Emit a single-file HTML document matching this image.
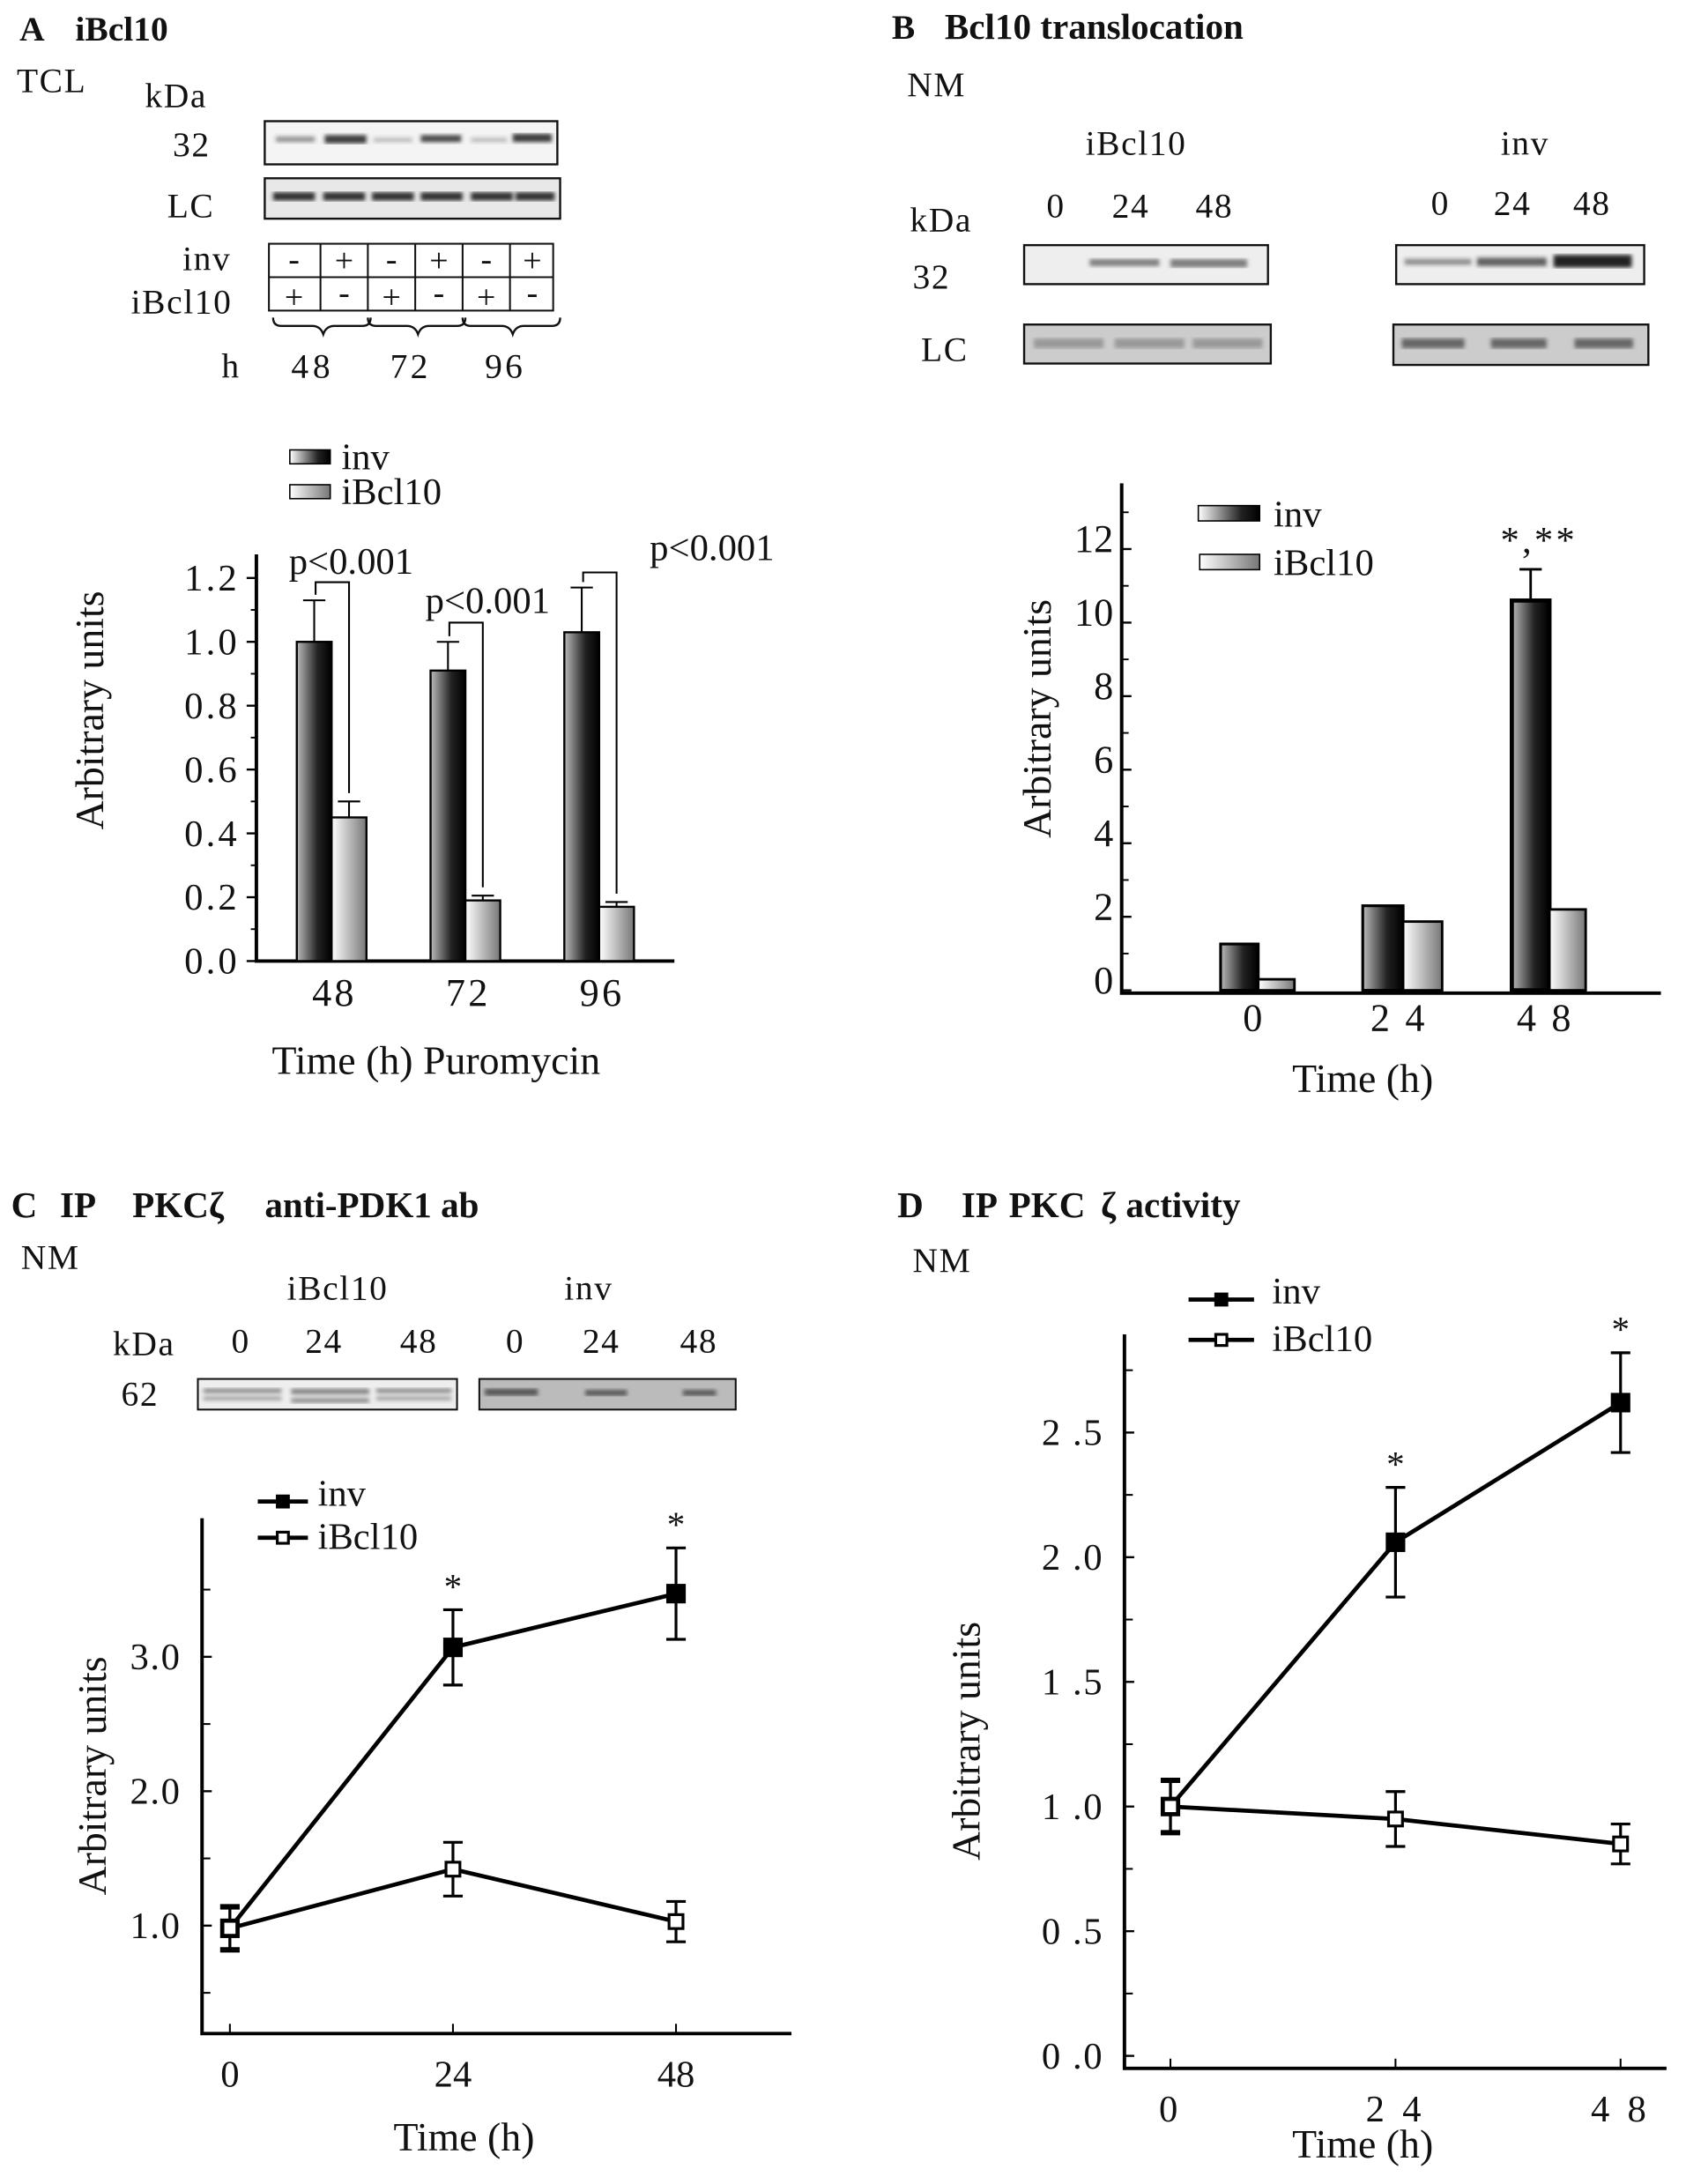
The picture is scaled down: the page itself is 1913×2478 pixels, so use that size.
<!DOCTYPE html>
<html><head><meta charset="utf-8">
<style>
html,body{margin:0;padding:0;background:#fff;}
svg{display:block;}
text{font-family:"Liberation Serif",serif;fill:#111;}
.b{font-weight:bold;}
</style></head>
<body>
<svg id="fig" xmlns="http://www.w3.org/2000/svg" width="1913" height="2478" viewBox="0 0 1210 1568" preserveAspectRatio="none" font-family="Liberation Serif, serif">
<defs>
<linearGradient id="gInv" x1="0" x2="1" y1="0" y2="0"><stop offset="0" stop-color="#bbb"/><stop offset="0.6" stop-color="#222"/><stop offset="1" stop-color="#000"/></linearGradient>
<linearGradient id="gIb" x1="0" x2="1" y1="0" y2="0"><stop offset="0" stop-color="#fff"/><stop offset="1" stop-color="#777"/></linearGradient>
<linearGradient id="gInvL" x1="0" x2="1"><stop offset="0" stop-color="#fff"/><stop offset="0.7" stop-color="#222"/><stop offset="1" stop-color="#000"/></linearGradient>
<filter id="blur"><feGaussianBlur stdDeviation="1.5"/></filter>
</defs>

<!-- Panel A header -->
<g font-size="25" letter-spacing="1">
<g class="b" font-size="25" letter-spacing="0">
<text x="14" y="29" class="b">A</text><text x="54" y="29" class="b">iBcl10</text></g>
<text x="12" y="66">TCL</text>
<text x="104" y="77">kDa</text>
<text x="124" y="112">32</text>
<text x="120" y="156">LC</text>
<rect x="190" y="87" width="210" height="31" fill="#f4f4f4" stroke="#111" stroke-width="1.5"/>
<g filter="url(#blur)" fill="#333">
<rect x="198" y="98" width="28" height="4" opacity="0.5"/><rect x="233" y="97" width="30" height="6" opacity="0.95"/>
<rect x="268" y="99" width="28" height="3" opacity="0.3"/><rect x="302" y="97" width="29" height="5" opacity="0.9"/>
<rect x="338" y="99" width="26" height="3" opacity="0.3"/><rect x="368" y="96" width="28" height="6" opacity="0.95"/>
</g>
<rect x="190" y="128" width="212" height="29" fill="#e8e8e8" stroke="#111" stroke-width="1.5"/>
<g filter="url(#blur)" fill="#333">
<rect x="196" y="138" width="30" height="6"/><rect x="232" y="138" width="30" height="6"/><rect x="267" y="138" width="30" height="6"/><rect x="302" y="138" width="30" height="6"/><rect x="338" y="138" width="30" height="6"/><rect x="370" y="138" width="28" height="6"/>
</g>
<text x="131" y="194">inv</text>
<text x="94" y="225">iBcl10</text>
<g stroke="#111" stroke-width="1.3" fill="none">
<rect x="193" y="175" width="204" height="48"/>
<line x1="193" y1="199" x2="397" y2="199"/>
<line x1="230" y1="175" x2="230" y2="223"/><line x1="264" y1="175" x2="264" y2="223"/><line x1="298" y1="175" x2="298" y2="223"/><line x1="332" y1="175" x2="332" y2="223"/><line x1="366" y1="175" x2="366" y2="223"/>
</g>
<g font-size="24" text-anchor="middle" letter-spacing="0">
<text x="211" y="194">-</text><text x="247" y="195">+</text><text x="281" y="194">-</text><text x="315" y="195">+</text><text x="349" y="194">-</text><text x="382" y="195">+</text>
<text x="211" y="221">+</text><text x="247" y="218">-</text><text x="281" y="221">+</text><text x="315" y="218">-</text><text x="349" y="221">+</text><text x="382" y="218">-</text>
</g>
<g stroke="#111" stroke-width="1.5" fill="none">
<path d="M196,228 q0,6 6,6 h22 q6,0 8,6 q2,-6 8,-6 h20 q6,0 6,-6"/>
<path d="M264,228 q0,6 6,6 h22 q6,0 8,6 q2,-6 8,-6 h20 q6,0 6,-6"/>
<path d="M332,228 q0,6 6,6 h22 q6,0 8,6 q2,-6 8,-6 h20 q6,0 6,-6"/>
</g>
<text x="159" y="271">h</text>
<text x="209" y="271" letter-spacing="3">48</text>
<text x="280" y="271" letter-spacing="2">72</text>
<text x="348" y="271" letter-spacing="2">96</text>
</g>

<g id="chartA"></g>

<!-- Panel B header -->
<g font-size="25" letter-spacing="1">
<g letter-spacing="0">
<text x="640" y="28" class="b">B</text><text x="678" y="28" class="b" font-size="26">Bcl10 translocation</text></g>
<text x="651" y="69">NM</text>
<text x="779" y="111">iBcl10</text>
<text x="1077" y="111">inv</text>
<text x="653" y="166">kDa</text>
<text x="751" y="156">0</text><text x="798" y="156">24</text><text x="858" y="156">48</text>
<text x="1027" y="154">0</text><text x="1072" y="154">24</text><text x="1129" y="154">48</text>
<text x="655" y="207">32</text>
<text x="661" y="259">LC</text>
<rect x="735" y="176" width="175" height="28" fill="#eee" stroke="#111" stroke-width="1.5"/>
<g filter="url(#blur)" fill="#333"><rect x="782" y="186" width="50" height="5" opacity="0.6"/><rect x="840" y="186" width="55" height="6" opacity="0.6"/></g>
<rect x="1002" y="176" width="178" height="28" fill="#eee" stroke="#111" stroke-width="1.5"/>
<g filter="url(#blur)" fill="#222"><rect x="1008" y="186" width="48" height="4" opacity="0.5"/><rect x="1060" y="185" width="50" height="6" opacity="0.7"/><rect x="1115" y="183" width="56" height="9" opacity="1"/></g>
<rect x="735" y="233" width="177" height="28" fill="#ccc" stroke="#111" stroke-width="1.5"/>
<g filter="url(#blur)" fill="#999"><rect x="742" y="243" width="50" height="7"/><rect x="800" y="243" width="50" height="7"/><rect x="856" y="243" width="50" height="7"/></g>
<rect x="1000" y="233" width="183" height="29" fill="#ccc" stroke="#111" stroke-width="1.5"/>
<g filter="url(#blur)" fill="#666"><rect x="1006" y="243" width="45" height="7"/><rect x="1070" y="243" width="40" height="7"/><rect x="1130" y="243" width="42" height="7"/></g>
</g>

<g id="chartB"></g>

<!-- Panel C header -->
<g font-size="25" letter-spacing="1">
<g letter-spacing="0" font-size="26">
<text x="8" y="874" class="b">C</text><text x="43" y="874" class="b">IP</text><text x="95" y="874" class="b">PKCζ</text><text x="190" y="874" class="b">anti-PDK1 ab</text></g>
<text x="15" y="911">NM</text>
<text x="206" y="933">iBcl10</text>
<text x="405" y="933">inv</text>
<text x="81" y="973">kDa</text>
<text x="166" y="971">0</text><text x="219" y="971">24</text><text x="287" y="971">48</text>
<text x="363" y="971">0</text><text x="418" y="971">24</text><text x="488" y="971">48</text>
<text x="87" y="1009">62</text>
<rect x="142" y="990" width="186" height="22" fill="#eee" stroke="#111" stroke-width="1.3"/>
<g filter="url(#blur)" fill="#555" opacity="0.7"><rect x="146" y="997" width="56" height="3"/><rect x="209" y="997" width="56" height="4"/><rect x="270" y="997" width="54" height="3"/><rect x="146" y="1003" width="56" height="2"/><rect x="209" y="1004" width="56" height="3"/><rect x="270" y="1003" width="54" height="2"/></g>
<rect x="344" y="990" width="184" height="22" fill="#bbb" stroke="#111" stroke-width="1.3"/>
<g filter="url(#blur)" fill="#555"><rect x="348" y="997" width="38" height="5"/><rect x="420" y="998" width="30" height="4"/><rect x="490" y="998" width="24" height="4"/></g>
</g>

<g id="chartC"></g>

<!-- Panel D header -->
<g font-size="26">
<g>
<text x="644" y="874" class="b">D</text><text x="690" y="874" class="b">IP</text><text x="724" y="874" class="b">PKC</text><text x="790" y="874" class="b">ζ</text><text x="808" y="874" class="b">activity</text></g>
<text x="655" y="913" font-size="25" letter-spacing="1">NM</text>
</g>
<g id="chartD"></g>
</svg>

<script>
// ---- Chart A data ----
const catsA = ['48', '72', '96'];
const invA = [1.00, 0.91, 1.03];
const invErrA = [0.13, 0.09, 0.14];
const ibA = [0.45, 0.19, 0.17];
const ibErrA = [0.05, 0.015, 0.015];
const ticksA = ['0.0', '0.2', '0.4', '0.6', '0.8', '1.0', '1.2'];
const tickValsA = [0, 0.2, 0.4, 0.6, 0.8, 1.0, 1.2];

// ---- Chart B data ----
const catsB = ['0', '2 4', '4 8'];
const invB = [1.26, 2.3, 10.6];
const invErrB = [0, 0, 0.85];
const ibB = [0.3, 1.87, 2.2];
const ticksB = ['0', '2', '4', '6', '8', '10', '12'];
const tickValsB = [0, 2, 4, 6, 8, 10, 12];

// ---- Chart C data ----
const timesC = [0, 24, 48];
const timeLabelsC = ['0', '24', '48'];
const invC = [0.98, 3.07, 3.47];
const invErrC = [0.17, 0.28, 0.34];
const ibC = [0.98, 1.42, 1.03];
const ibErrC = [0.15, 0.2, 0.15];
const ticksC = ['1.0', '2.0', '3.0'];
const tickValsC = [1, 2, 3];

// ---- Chart D data ----
const timesD = [0, 24, 48];
const timeLabelsD = ['0', '2 4', '4 8'];
const invD = [1.0, 2.06, 2.62];
const invErrD = [0.11, 0.22, 0.2];
const ibD = [1.0, 0.95, 0.85];
const ibErrD = [0.1, 0.11, 0.08];
const ticksD = ['0 .0', '0 .5', '1 .0', '1 .5', '2 .0', '2 .5'];
const tickValsD = [0, 0.5, 1.0, 1.5, 2.0, 2.5];

const NS = 'http://www.w3.org/2000/svg';
function mk(tag, attrs, parent, txt) {
  const e = document.createElementNS(NS, tag);
  for (const k in attrs) e.setAttribute(k, attrs[k]);
  if (txt !== undefined) e.textContent = txt;
  parent.appendChild(e);
  return e;
}

// ================= Chart A =================
(function () {
  const g = document.getElementById('chartA');
  const y = v => 690 - v * 229.2;
  const gx = i => 238 + i * 96;
  const bw = 25;
  const ax = mk('path', {d: 'M184,398 V690 H484', stroke: '#000', 'stroke-width': 2.5, fill: 'none'}, g);
  
  
  tickValsA.forEach((v, i) => {
    mk('line', {x1: 177, x2: 184, y1: y(v), y2: y(v), stroke: '#000', 'stroke-width': 1.5}, g);
    if (i < tickValsA.length - 1) mk('line', {x1: 180, x2: 184, y1: y(v + 0.1), y2: y(v + 0.1), stroke: '#000', 'stroke-width': 1.2}, g);
    const t = mk('text', {x: 172, y: y(v) + 9, 'font-size': 27, 'text-anchor': 'end', 'letter-spacing': 2}, g, ticksA[i]);
    
    
  });
  catsA.forEach((c, i) => {
    const b1 = mk('rect', {x: gx(i) - bw, y: y(invA[i]), width: bw, height: 690 - y(invA[i]), fill: 'url(#gInv)', stroke: '#000', 'stroke-width': 1.5}, g);
    
    
    const b2 = mk('rect', {x: gx(i), y: y(ibA[i]), width: bw, height: 690 - y(ibA[i]), fill: 'url(#gIb)', stroke: '#000', 'stroke-width': 1.5}, g);
    
    
    const cx1 = gx(i) - bw / 2, cx2 = gx(i) + bw / 2;
    mk('path', {d: `M${cx1},${y(invA[i])} V${y(invA[i] + invErrA[i])} M${cx1 - 8},${y(invA[i] + invErrA[i])} H${cx1 + 8}`, stroke: '#000', 'stroke-width': 1.3, fill: 'none'}, g);
    mk('path', {d: `M${cx2},${y(ibA[i])} V${y(ibA[i] + ibErrA[i])} M${cx2 - 8},${y(ibA[i] + ibErrA[i])} H${cx2 + 8}`, stroke: '#000', 'stroke-width': 1.3, fill: 'none'}, g);
    const xl = mk('text', {x: gx(i) + 2, y: 722, 'font-size': 28, 'text-anchor': 'middle', 'letter-spacing': 2}, g, c);
    
    
  });
  // p-value brackets
  const brTop = [418, 447, 411];
  const txtPos = [[252, 412], [350, 440], [511, 402]];
  catsA.forEach((c, i) => {
    const cx1 = gx(i) - bw / 2 + 1, cx2 = gx(i) + bw / 2 - 2;
    mk('path', {d: `M${cx1},${y(invA[i] + invErrA[i]) - 4} V${brTop[i]} H${cx2 + 2} V${y(ibA[i] + ibErrA[i]) - 6}`, stroke: '#000', 'stroke-width': 1.3, fill: 'none'}, g);
    const p = mk('text', {x: txtPos[i][0], y: txtPos[i][1], 'font-size': 27, 'text-anchor': 'middle'}, g, 'p<0.001');
    
    
  });
  // legend
  mk('rect', {x: 208, y: 323, width: 29, height: 10, fill: 'url(#gInvL)', stroke: '#000'}, g);
  const l1 = mk('text', {x: 245, y: 337, 'font-size': 27}, g, 'inv');
  
  
  mk('rect', {x: 208, y: 348, width: 29, height: 10, fill: 'url(#gIb)', stroke: '#000'}, g);
  const l2 = mk('text', {x: 245, y: 362, 'font-size': 27}, g, 'iBcl10');
  
  
  const yt = mk('text', {x: 0, y: 0, 'font-size': 29, 'text-anchor': 'middle', transform: 'translate(74,510) rotate(-90)'}, g, 'Arbitrary units');
  
  
  const xt = mk('text', {x: 313, y: 771, 'font-size': 29, 'text-anchor': 'middle'}, g, 'Time (h) Puromycin');
  
  
})();

// ================= Chart B =================
(function () {
  const g = document.getElementById('chartB');
  const y = v => 711 - v * 26.4;
  const gx = i => [903, 1007, 1112][i];
  const widths = [27, 29, 27];
  const ax = mk('path', {d: 'M805,347 V713 H1192', stroke: '#000', 'stroke-width': 2.5, fill: 'none'}, g);
  
  
  tickValsB.forEach((v, i) => {
    mk('line', {x1: 805, x2: 812, y1: y(v), y2: y(v), stroke: '#000', 'stroke-width': 1.5}, g);
    mk('line', {x1: 805, x2: 810, y1: y(v + 1), y2: y(v + 1), stroke: '#000', 'stroke-width': 1.2}, g);
    const t = mk('text', {x: 799, y: y(v) + 2, 'font-size': 28, 'text-anchor': 'end'}, g, ticksB[i]);
    
    
  });
  catsB.forEach((c, i) => {
    const w = widths[i];
    const b1 = mk('rect', {x: gx(i) - w, y: y(invB[i]), width: w, height: 711 - y(invB[i]), fill: 'url(#gInv)', stroke: '#000', 'stroke-width': i === 2 ? 3 : 2}, g);
    
    
    const b2 = mk('rect', {x: gx(i), y: y(ibB[i]), width: w - 1, height: 711 - y(ibB[i]), fill: 'url(#gIb)', stroke: '#000', 'stroke-width': 1.8}, g);
    
    
    if (invErrB[i] > 0) {
      const cx = gx(i) - w / 2;
      mk('path', {d: `M${cx},${y(invB[i])} V${y(invB[i] + invErrB[i])} M${cx - 8},${y(invB[i] + invErrB[i])} H${cx + 8}`, stroke: '#000', 'stroke-width': 1.8, fill: 'none'}, g);
      const s = mk('text', {x: cx + 6, y: y(invB[i] + invErrB[i]) - 12, 'font-size': 27, 'text-anchor': 'middle', 'letter-spacing': 2}, g, '*,**');
      
      
    }
    const xl = mk('text', {x: gx(i) - 3, y: 740, 'font-size': 28, 'text-anchor': 'middle', 'letter-spacing': 2}, g, c);
    
    
  });
  mk('rect', {x: 860, y: 363, width: 44, height: 11, fill: 'url(#gInvL)', stroke: '#000'}, g);
  const l1 = mk('text', {x: 914, y: 378, 'font-size': 27}, g, 'inv');
  
  
  mk('rect', {x: 861, y: 398, width: 43, height: 11, fill: 'url(#gIb)', stroke: '#000'}, g);
  const l2 = mk('text', {x: 914, y: 413, 'font-size': 27}, g, 'iBcl10');
  
  
  const yt = mk('text', {x: 0, y: 0, 'font-size': 29, 'text-anchor': 'middle', transform: 'translate(754,516) rotate(-90)'}, g, 'Arbitrary units');
  
  
  const xt = mk('text', {x: 978, y: 784, 'font-size': 29, 'text-anchor': 'middle'}, g, 'Time (h)');
  
  
})();

// ================= Line charts =================
function lineChart(g, cfg) {
  const y = v => cfg.y0 - v * cfg.ys;
  const x = t => cfg.x0 + t * cfg.xs;
  const ax = mk('path', {d: `M${cfg.axX},${cfg.axTop} V${cfg.axY} H${cfg.axR}`, stroke: '#000', 'stroke-width': 2.5, fill: 'none'}, g);
  
  
  cfg.tickVals.forEach((v, i) => {
    mk('line', {x1: cfg.axX, x2: cfg.axX + 7, y1: y(v), y2: y(v), stroke: '#000', 'stroke-width': 1.5}, g);
    const t = mk('text', {x: cfg.axX - 15, y: y(v) + 9, 'font-size': 27, 'text-anchor': 'end', 'letter-spacing': 1}, g, cfg.tickLabels[i]);
    
    
  });
  cfg.minor.forEach(v => {
    mk('line', {x1: cfg.axX, x2: cfg.axX + 6, y1: y(v), y2: y(v), stroke: '#000', 'stroke-width': 1.3}, g);
  });
  cfg.times.forEach((t, i) => {
    mk('line', {x1: x(t), x2: x(t), y1: cfg.axY - 7, y2: cfg.axY, stroke: '#000', 'stroke-width': 1.3}, g);
    const xl = mk('text', {x: x(t), y: cfg.axY + 38, 'font-size': 27, 'text-anchor': 'middle', 'letter-spacing': cfg.ls}, g, cfg.timeLabels[i]);
    
    
  });
  const series = [[cfg.inv, cfg.invErr, '#000', 'inv'], [cfg.ib, cfg.ibErr, '#fff', 'ibcl10']];
  series.forEach(s => {
    const pts = cfg.times.map((t, i) => x(t) + ',' + y(s[0][i])).join(' ');
    const pl = mk('polyline', {points: pts, fill: 'none', stroke: '#000', 'stroke-width': 3}, g);
    
    
  });
  series.forEach(s => {
    cfg.times.forEach((t, i) => {
      const cx = x(t), v = s[0][i], e = s[1][i];
      mk('path', {d: `M${cx},${y(v + e)} V${y(v - e)} M${cx - 7},${y(v + e)} H${cx + 7} M${cx - 7},${y(v - e)} H${cx + 7}`, stroke: '#000', 'stroke-width': 2, fill: 'none'}, g);
      const sz = s[2] === '#000' ? 12 : 10;
      const m = mk('rect', {x: cx - sz / 2, y: y(v) - sz / 2, width: sz, height: sz, fill: s[2], stroke: '#000', 'stroke-width': 2}, g);
      
      
    });
  });
  cfg.times.forEach((t, i) => {
    if (i > 0) {
      const st = mk('text', {x: x(t), y: y(cfg.inv[i] + cfg.invErr[i]) - 8, 'font-size': 26, 'text-anchor': 'middle'}, g, '*');
      
      
    }
  });
  // legend
  mk('line', {x1: cfg.lgX, x2: cfg.lgX + cfg.lgW, y1: cfg.lgY, y2: cfg.lgY, stroke: '#000', 'stroke-width': 3}, g);
  mk('rect', {x: cfg.lgX + cfg.lgW / 2 - 5, y: cfg.lgY - 5, width: 10, height: 10, fill: '#000'}, g);
  const l1 = mk('text', {x: cfg.lgTX, y: cfg.lgY + 3, 'font-size': 27}, g, 'inv');
  
  
  mk('line', {x1: cfg.lgX, x2: cfg.lgX + cfg.lgW, y1: cfg.lgY + cfg.lgD, y2: cfg.lgY + cfg.lgD, stroke: '#000', 'stroke-width': 3}, g);
  mk('rect', {x: cfg.lgX + cfg.lgW / 2 - 4, y: cfg.lgY + cfg.lgD - 4, width: 8, height: 8, fill: '#fff', stroke: '#000', 'stroke-width': 2}, g);
  const l2 = mk('text', {x: cfg.lgTX, y: cfg.lgY + cfg.lgD + 8, 'font-size': 27}, g, 'iBcl10');
  
  
  const yt = mk('text', {x: 0, y: 0, 'font-size': 29, 'text-anchor': 'middle', transform: `translate(${cfg.ytX},${cfg.ytY}) rotate(-90)`}, g, 'Arbitrary units');
  
  
  const xt = mk('text', {x: cfg.xtX, y: cfg.xtY, 'font-size': 29, 'text-anchor': 'middle'}, g, 'Time (h)');
  
  
}

lineChart(document.getElementById('chartC'), {
  id: 'chart-c', y0: 1479, ys: 96.5, x0: 165, xs: 6.67,
  axX: 145, axTop: 1090, axY: 1460, axR: 568,
  tickVals: tickValsC, tickLabels: ticksC, minor: [0.5, 1.5, 2.5, 3.5],
  times: timesC, timeLabels: timeLabelsC, ls: 0,
  inv: invC, invErr: invErrC, ib: ibC, ibErr: ibErrC,
  lgX: 185, lgW: 36, lgY: 1078, lgD: 26, lgTX: 228,
  ytX: 76, ytY: 1275, xtX: 333, xtY: 1544
});

lineChart(document.getElementById('chartD'), {
  id: 'chart-d', y0: 1476, ys: 179, x0: 840, xs: 6.73,
  axX: 807, axTop: 958, axY: 1485, axR: 1196,
  tickVals: tickValsD, tickLabels: ticksD, minor: [0.25, 0.75, 1.25, 1.75, 2.25, 2.75],
  times: timesD, timeLabels: timeLabelsD, ls: 3,
  inv: invD, invErr: invErrD, ib: ibD, ibErr: ibErrD,
  lgX: 853, lgW: 47, lgY: 933, lgD: 29, lgTX: 913,
  ytX: 703, ytY: 1250, xtX: 978, xtY: 1549
});
</script>
</body></html>
